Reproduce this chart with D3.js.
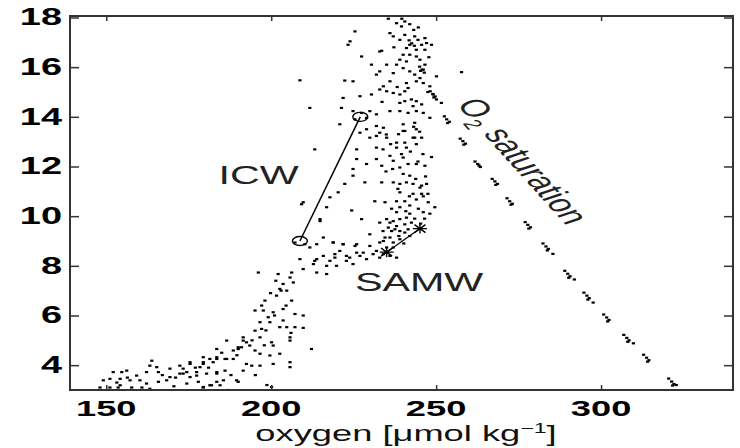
<!DOCTYPE html>
<html>
<head>
<meta charset="utf-8">
<script src="https://cdn.jsdelivr.net/npm/d3@7/dist/d3.min.js"></script>
<style>
body { margin: 0; background: #fff; }
text { font-family: "Liberation Sans", Arial, Helvetica, sans-serif; }
</style>
</head>
<body>
<div class="graph"></div>
<script>
// Axis ticks
var oxygenTicks = [150, 200, 250, 300];
var tempTicks = [4, 6, 8, 10, 12, 14, 16, 18];

// Water mass end members [oxygen, temperature]
var icwEnds = [[208.7, 9.0], [227.0, 14.0]];
var samwEnds = [[235.0, 8.55], [245.1, 9.5]];

// O2 saturation points [oxygen, temperature]
var saturation = [
    [241.8,17.08],[242.6,16.96],[243.4,16.86],
    [245.0,16.02],[245.7,15.9],[246.4,15.78],[245.3,15.85],
    [248.2,15.03],[249.0,14.92],[249.7,14.82],[249.3,14.78],
    [252.5,14.02],[253.2,13.9],[254.0,13.8],[253.5,13.75],
    [257.3,13.12],[258.1,13.02],[258.9,12.92],[258.4,12.88],
    [261.8,12.2],[262.6,12.1],[263.4,11.98],[263.0,12.04],
    [267.0,11.5],[267.8,11.4],[268.6,11.3],[268.1,11.26],
    [271.5,10.72],[272.3,10.6],[273.1,10.5],[272.7,10.46],
    [277.0,9.76],[277.8,9.65],[278.6,9.55],[278.1,9.5],
    [282.4,8.9],[283.3,8.78],[284.0,8.68],[283.7,8.62],[285.4,8.48],
    [289.0,7.8],[289.9,7.68],[290.6,7.58],[290.2,7.52],[291.9,7.45],
    [294.8,6.92],[295.7,6.8],[296.4,6.7],[296.0,6.64],[297.6,6.52],
    [300.8,6.04],[301.7,5.92],[302.4,5.82],[302.0,5.76],
    [306.9,5.22],[307.8,5.1],[308.5,5.0],[308.1,4.94],[309.8,4.88],
    [312.9,4.42],[313.8,4.3],[314.5,4.2],[314.1,4.14],
    [320.5,3.46],[321.4,3.34],[322.1,3.24],[321.7,3.18],[322.8,3.2]
];

// Bottle samples [oxygen, temperature]
var samples = [
    [235.5,17.95],[238.0,17.77],[240.5,17.84],[242.0,17.73],[239.5,17.64],[236.0,17.37],
    [237.0,17.24],[240.5,17.3],[243.5,17.24],[244.5,17.1],[246.6,17.17],[239.0,17.1],
    [223.9,17.04],[223.3,16.9],[225.4,17.44],[242.0,16.9],[245.6,16.9],[247.1,16.97],
    [248.6,16.9],[241.0,16.77],[244.0,16.7],[246.6,16.7],[232.9,16.63],[233.5,16.66],
    [227.4,16.43],[240.0,16.5],[242.0,16.5],[239.0,16.3],[241.0,16.23],[244.0,16.43],
    [245.1,16.3],[238.0,16.1],[246.6,16.1],[230.4,16.1],[235.0,16.1],[246.1,15.9],
    [240.0,15.96],[242.0,15.83],[232.9,15.83],[237.0,15.76],[231.9,15.7],[243.5,15.7],
    [245.1,15.56],[250.1,15.63],[257.7,15.8],[208.7,15.47],[222.3,15.46],[224.8,15.43],
    [236.0,15.43],[234.0,15.23],[241.0,15.36],[244.0,15.43],[246.1,15.36],[248.1,15.23],
    [241.5,15.16],[232.9,15.1],[235.0,15.03],[237.0,14.96],[230.4,14.9],[226.9,14.83],
    [221.8,14.76],[239.0,14.9],[240.5,15.03],[249.1,14.9],[250.1,14.7],[239.0,14.56],
    [240.5,14.63],[242.5,14.7],[244.0,14.63],[243.0,14.43],[251.6,14.56],[211.7,14.36],
    [221.3,14.36],[224.8,14.23],[227.4,14.16],[229.9,14.23],[231.9,14.1],[236.0,14.23],
    [239.0,14.23],[241.5,14.16],[244.0,14.23],[246.1,14.16],[248.1,13.96],[220.8,13.7],
    [225.4,13.9],[228.9,13.96],[231.9,13.63],[234.0,13.56],[240.0,13.7],[243.5,13.76],
    [244.0,13.5],[228.9,13.5],[240.5,13.43],[226.9,13.36],[231.9,13.23],[229.9,13.16],
    [243.5,13.16],[232.9,13.36],[234.9,13.29],[235.0,13.16],[240.0,13.43],[243.0,13.16],
    [245.6,13.16],[238.0,12.96],[240.5,12.96],[244.0,12.9],[213.2,12.69],[225.9,12.69],
    [231.9,12.76],[233.9,12.69],[238.0,12.76],[241.0,12.76],[236.0,12.43],[231.9,12.3],
    [237.0,12.23],[240.0,12.36],[248.6,12.38],[225.9,12.3],[228.9,12.1],[233.5,12.03],
    [239.0,11.96],[244.0,12.1],[246.6,12.03],[224.8,11.9],[240.0,11.7],[242.0,11.63],
    [224.8,11.63],[237.0,11.36],[239.0,11.3],[241.0,11.36],[243.0,11.3],[245.6,11.23],
    [247.1,11.3],[222.3,11.3],[228.4,11.36],[233.5,11.36],[220.3,10.96],[239.0,10.96],
    [243.0,10.9],[245.6,10.9],[245.1,11.15],[246.1,10.8],[209.7,10.56],[231.4,10.6],
    [234.5,10.56],[238.0,10.6],[240.5,10.6],[244.0,10.67],[247.6,10.56],[239.0,10.36],
    [242.0,10.43],[244.6,10.3],[249.6,10.36],[217.8,10.76],[216.8,10.36],[224.4,10.23],
    [238.0,10.16],[242.0,10.1],[246.1,10.16],[248.1,10.1],[209.2,10.48],[214.8,9.88],
    [227.4,9.88],[214.8,9.8],[232.9,9.74],[236.0,9.74],[238.0,9.6],[240.5,9.67],
    [242.5,9.74],[235.0,9.88],[237.0,9.8],[239.0,9.88],[241.0,9.94],[235.5,9.54],
    [237.5,9.47],[240.5,9.34],[229.9,9.27],[233.9,9.4],[236.5,9.4],[239.0,9.4],
    [241.5,9.47],[236.0,9.14],[239.0,9.07],[234.5,9.14],[237.0,8.94],[215.8,9.14],
    [218.8,8.94],[221.8,8.87],[225.9,8.87],[229.9,8.8],[232.9,8.94],[235.0,8.74],
    [211.7,8.74],[220.8,8.6],[227.9,8.53],[231.9,8.6],[237.0,8.74],[234.0,8.47],
    [236.0,8.4],[232.9,8.33],[238.0,8.33],[215.8,8.4],[219.3,8.33],[223.8,8.33],
    [226.9,8.4],[228.9,8.27],[230.9,8.47],[222.8,8.2],[219.8,8.0],[216.8,8.0],
    [208.7,8.27],[207.2,8.94],[210.2,8.87],[213.8,8.87],[218.8,8.94],[221.8,8.87],
    [225.4,8.8],[219.3,8.47],[222.8,8.4],[225.9,8.53],[213.8,8.27],[212.8,8.07],
    [217.8,8.2],[224.8,8.07],[213.2,8.2],[209.7,7.87],[213.8,7.73],[216.8,7.67],
    [196.1,7.73],[202.1,7.67],[206.2,7.73],[205.7,7.53],[206.7,7.33],[203.6,7.27],
    [202.6,7.07],[204.7,7.0],[201.6,6.8],[206.2,6.6],[198.1,6.6],[197.1,6.4],
    [195.1,6.2],[197.6,6.2],[200.6,6.13],[203.6,6.26],[207.2,6.06],[209.7,6.0],
    [199.1,5.93],[196.6,5.73],[199.6,5.73],[202.6,5.53],[204.7,5.53],[207.2,5.53],
    [209.7,5.5],[195.1,5.39],[197.1,5.46],[196.6,5.12],[205.7,5.12],[205.7,4.99],
    [212.2,4.65],[200.1,4.92],[200.6,4.79],[186.5,4.99],[191.5,5.12],[192.5,4.92],
    [191.0,4.72],[193.5,4.79],[195.1,4.59],[196.6,4.46],[190.0,4.65],[188.5,4.59],
    [183.5,4.65],[199.6,4.39],[202.6,4.46],[188.5,4.25],[186.0,4.25],[183.5,4.25],
    [179.4,4.32],[179.4,4.05],[182.4,4.12],[175.4,4.05],[192.5,4.05],[194.1,3.98],
    [196.6,3.98],[200.6,4.05],[205.7,4.12],[205.7,3.92],[173.3,3.86],[173.3,3.66],
    [177.4,3.58],[180.4,3.66],[183.5,3.66],[174.4,3.26],[179.4,3.12],[181.9,3.19],
    [184.5,3.19],[190.0,3.33],[200.1,3.12],[186.0,3.78],[191.5,4.99],[190.0,4.72],
    [183.5,4.32],[186.5,4.25],[181.4,4.25],[179.4,4.12],[175.4,4.12],[178.4,3.92],
    [172.3,3.98],[169.3,3.86],[163.8,4.18],[163.2,3.98],[165.3,3.92],[165.8,3.72],
    [162.2,3.72],[159.2,3.58],[156.2,3.78],[154.7,3.72],[152.1,3.72],[154.2,3.45],
    [151.1,3.45],[149.1,3.39],[157.2,3.39],[160.2,3.39],[154.2,3.19],[148.1,3.1],
    [151.1,3.1],[153.6,3.1],[157.7,3.1],[163.2,3.05],[168.3,3.39],[169.3,3.52],
    [172.3,3.66],[174.4,3.72],[175.4,3.52],[177.4,3.72],[177.9,3.33],[179.4,3.1],
    [181.4,3.19],[183.5,3.33],[185.5,3.39],[189.5,3.39],[183.5,3.72],[191.5,3.78],
    [162.2,3.26],[165.8,3.33],
    [243.2,13.6],[245.0,13.4],[238.6,13.3],[242.2,12.6],[246.0,12.5],[244.5,12.2],
    [241.5,12.1],[236.8,11.9],[243.8,11.5],[246.8,11.6],[238.4,11.1],[241.9,10.8],
    [236.5,10.3],[240.8,10.2],[243.5,9.9],[245.3,9.7],[238.7,9.2],[242.0,9.2],
    [234.0,9.0],[240.2,8.9],[246.5,9.9],[247.5,10.9],[236.2,12.9],[239.5,12.5],
    [234.8,11.8],[245.6,14.5],[247.5,15.0],[238.2,15.2],[233.6,14.6],[247.8,16.4],
    [237.2,16.8],[243.2,17.5],[239.6,17.95],[244.6,17.6],
    [201.4,7.4],[203.0,7.0],[199.8,6.9],[204.5,6.4],[201.0,6.0],[198.4,5.4],
    [203.6,5.8],[206.0,5.3],[194.2,5.0],[197.9,4.8],[189.6,4.4],[185.0,4.5],
    [181.0,3.9],[177.0,3.9],[171.0,3.5],[167.0,3.6],[160.8,3.1],[156.4,3.5],
    [153.2,3.3],[187.8,3.6],[195.2,3.6],[198.7,3.2],[186.8,3.0],[170.5,3.15]
];

// Layout
var width = 740;
var height = 448;
var plot = { left: 70, right: 733, top: 16, bottom: 390 };
var stretch = 1.65;

var svg = d3.select(".graph").append("svg")
    .attr("width", width)
    .attr("height", height)
    .style("display", "block");

// Scales
var x = d3.scaleLinear().domain([139, 340]).range([plot.left, plot.right]);
var y = d3.scaleLinear().domain([3, 18.06]).range([plot.bottom, plot.top]);

svg.append("clipPath").attr("id", "clip")
  .append("rect")
    .attr("x", plot.left).attr("y", plot.top)
    .attr("width", plot.right - plot.left)
    .attr("height", plot.bottom - plot.top);

var marks = svg.append("g").attr("clip-path", "url(#clip)");

// Dots
marks.selectAll("rect.dot")
    .data(samples.concat(saturation))
    .enter().append("rect")
    .attr("class", "dot")
    .attr("x", function (d) { return x(d[0]) - 1.6; })
    .attr("y", function (d) { return y(d[1]) - 1.1; })
    .attr("width", 3.2)
    .attr("height", 2.2)
    .attr("fill", "#000");

var line = d3.line()
    .x(function (d) { return x(d[0]); })
    .y(function (d) { return y(d[1]); });

// ICW mixing line with circles
marks.append("path").datum(icwEnds)
    .attr("d", line).attr("fill", "none")
    .attr("stroke", "#000").attr("stroke-width", 1.5);
marks.selectAll("ellipse.icw").data(icwEnds)
    .enter().append("ellipse")
    .attr("cx", function (d) { return x(d[0]); })
    .attr("cy", function (d) { return y(d[1]); })
    .attr("rx", 7.5).attr("ry", 4.5)
    .attr("fill", "none").attr("stroke", "#000").attr("stroke-width", 1.4);

// SAMW mixing line with stars
marks.append("path").datum(samwEnds)
    .attr("d", line).attr("fill", "none")
    .attr("stroke", "#000").attr("stroke-width", 1.2);
marks.selectAll("path.star").data(samwEnds)
    .enter().append("path")
    .attr("class", "star")
    .attr("transform", function (d) { return "translate(" + x(d[0]) + "," + y(d[1]) + ")"; })
    .attr("d", "M-7,0H7M0,-5V5M-5.5,-4L5.5,4M-5.5,4L5.5,-4")
    .attr("stroke", "#000").attr("stroke-width", 1.4);

// Frame and ticks
svg.append("rect")
    .attr("x", plot.left).attr("y", plot.top)
    .attr("width", plot.right - plot.left)
    .attr("height", plot.bottom - plot.top)
    .attr("fill", "none").attr("stroke", "#333").attr("stroke-width", 2);

function tickAxis(axis, tx, ty) {
    var g = svg.append("g")
        .attr("transform", "translate(" + tx + "," + ty + ")")
        .call(axis.tickFormat(""));
    g.select(".domain").remove();
    g.selectAll("line").attr("stroke", "#333").attr("stroke-width", 1.5);
}
tickAxis(d3.axisBottom(x).tickValues(oxygenTicks).tickSize(-5), 0, plot.bottom);
tickAxis(d3.axisTop(x).tickValues(oxygenTicks).tickSize(-5), 0, plot.top);
tickAxis(d3.axisLeft(y).tickValues(tempTicks).tickSize(-9), plot.left, 0);
tickAxis(d3.axisRight(y).tickValues(tempTicks).tickSize(-9), plot.right, 0);

// Tick labels (stretched like the source figure)
svg.selectAll("text.xlab").data(oxygenTicks)
    .enter().append("text")
    .attr("transform", function (d) { return "translate(" + x(d) + ",416) scale(" + stretch + ",1)"; })
    .attr("text-anchor", "middle")
    .attr("font-size", 22).attr("font-weight", "bold")
    .text(function (d) { return d; });

svg.selectAll("text.ylab").data(tempTicks)
    .enter().append("text")
    .attr("transform", function (d) { return "translate(62," + (y(d) + 8) + ") scale(" + stretch + ",1)"; })
    .attr("text-anchor", "end")
    .attr("font-size", 23).attr("font-weight", "bold")
    .text(function (d) { return d; });

// Axis title
var xt = svg.append("text")
    .attr("transform", "translate(406,441) scale(" + stretch + ",1)")
    .attr("text-anchor", "middle")
    .attr("font-size", 22).attr("fill", "#111");
xt.append("tspan").text("oxygen [\u03bcmol kg");
xt.append("tspan").attr("dy", -8).attr("font-size", 14).text("\u22121");
xt.append("tspan").attr("dy", 8).text("]");

// Annotations
svg.append("text")
    .attr("transform", "translate(" + x(184) + "," + y(11.3) + ") scale(" + stretch + ",1)")
    .attr("font-size", 25).attr("fill", "#222").text("ICW");
svg.append("text")
    .attr("transform", "translate(" + x(225.4) + "," + y(7.0) + ") scale(" + stretch + ",1)")
    .attr("font-size", 25).attr("fill", "#222").text("SAMW");

var sat = svg.append("text")
    .attr("transform", "translate(456,104) scale(" + stretch + ",1) rotate(61.2)")
    .attr("font-size", 24).attr("fill", "#222");
sat.append("tspan").text("O");
sat.append("tspan").attr("dy", 6).attr("font-size", 15).text("2");
sat.append("tspan").attr("dy", -6).text(" saturation");
</script>
</body>
</html>
